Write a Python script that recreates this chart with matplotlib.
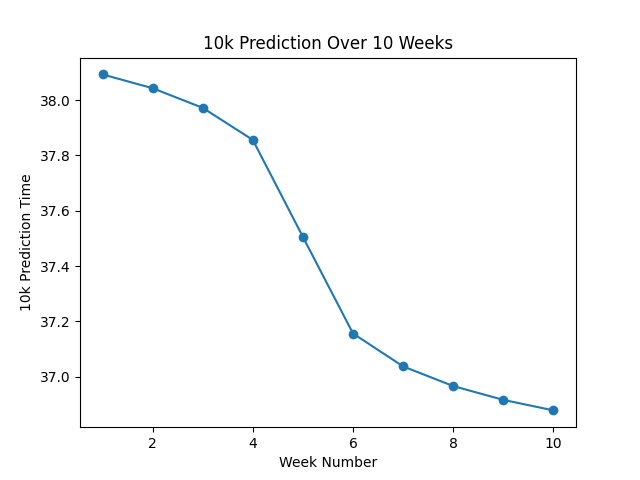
import matplotlib
matplotlib.use('Agg')
import matplotlib.pyplot as plt

# semanas e previsoes
semanas = [1, 2, 3, 4, 5, 6, 7, 8, 9, 10]
previsao = [38.093, 38.043, 37.972, 37.856, 37.505, 37.156, 37.037, 36.966, 36.916, 36.878]

plt.figure(figsize=(6.4, 4.8), dpi=100)
plt.plot(semanas, previsao, marker='o')
plt.title('10k Prediction Over 10 Weeks')
plt.xlabel('Week Number')
plt.ylabel('10k Prediction Time')

plt.savefig('out.png')
